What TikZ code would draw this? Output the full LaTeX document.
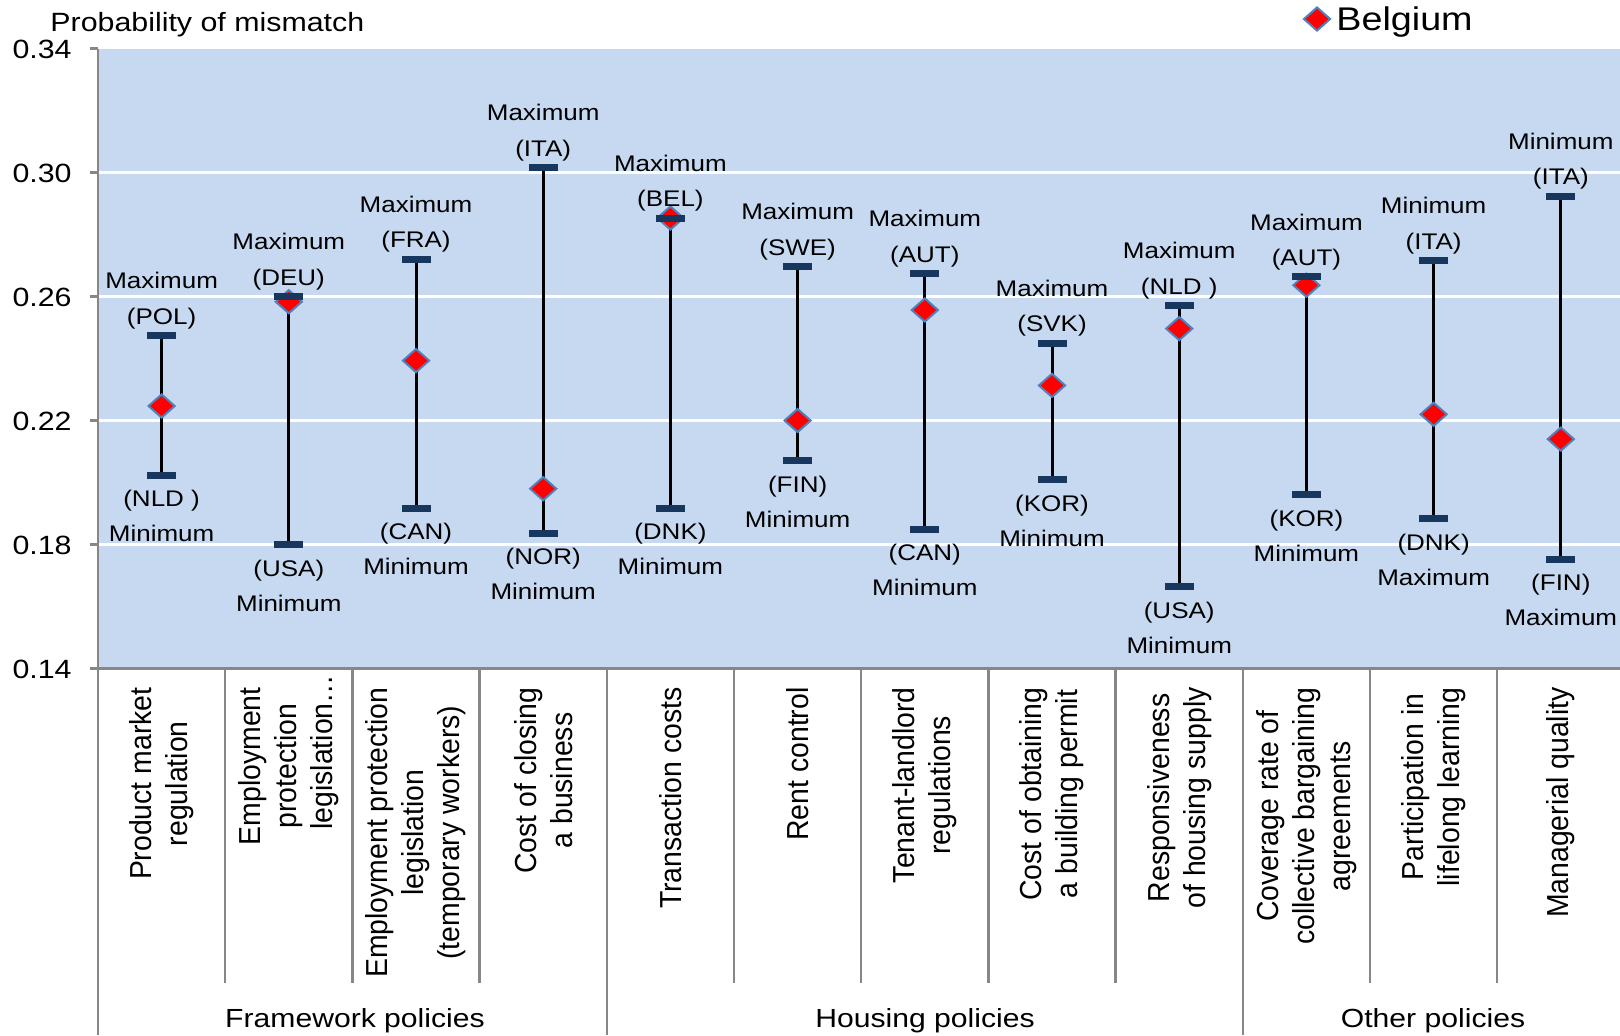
\documentclass[tikz,border=0pt]{standalone}
\usepackage{fontspec}
\setmainfont{Liberation Sans}
\newfontfamily\hfont[FakeStretch=1.15]{Liberation Sans}
\usetikzlibrary{shapes.geometric}
\definecolor{plotbg}{HTML}{C6D9F0}
\definecolor{capcol}{HTML}{17375E}
\definecolor{axcol}{HTML}{878787}
\definecolor{dborder}{HTML}{4F81BD}
\pgfdeclarelayer{back}
\pgfdeclarelayer{mid}
\pgfsetlayers{back,mid,main}
\begin{document}
\begin{tikzpicture}[x=0.5pt,y=-0.5pt,
  capbar/.style={rectangle, fill=capcol, minimum width=14.5pt, minimum height=3.5pt, inner sep=0pt},
  belg/.style={diamond, fill=red, draw=dborder, line width=1pt, minimum width=13.5pt, minimum height=12pt, inner sep=0pt},
  vline/.style={line width=1.5pt, black},
  gridl/.style={line width=1.2pt, white},
  axisl/.style={line width=1.2pt, axcol},
  dlbl/.style={font=\hfont\fontsize{11.3}{13}\selectfont, inner sep=0pt, text height=8.1pt, text depth=0pt},
  ticklbl/.style={font=\hfont\fontsize{13.2}{15}\selectfont, inner sep=0pt, text height=9.5pt, text depth=0pt, anchor=east},
  catlbl/.style={font=\fontsize{14.2}{16.8}\selectfont, align=center, inner sep=0pt, transform shape, rotate=90, anchor=east},
  grplbl/.style={font=\hfont\fontsize{13.1}{15}\selectfont, inner sep=0pt, text height=9.4pt, text depth=0pt},
]
\useasboundingbox (0,0) rectangle (1620,1035);

% plot background and grid
\begin{pgfonlayer}{back}
  \fill[plotbg] (98,48.6) rectangle (1620,668.6);
  \foreach \gy in {172.6,296.6,420.6,544.6}
    \draw[gridl] (98,\gy) -- (1620,\gy);
\end{pgfonlayer}

% axes
\draw[axisl] (98,48.6) -- (98,1035);
\draw[axisl] (98,668.6) -- (1620,668.6);
\foreach \gy in {48.6,172.6,296.6,420.6,544.6,668.6}
  \draw[axisl] (90,\gy) -- (98,\gy);
\foreach \k in {1,2,3,5,6,7,8,10,11}
  \draw[axisl] ({98+\k*127.2},668.6) -- ({98+\k*127.2},983);
\foreach \k in {4,9}
  \draw[axisl] ({98+\k*127.2},668.6) -- ({98+\k*127.2},1035);

% tick labels
\node[ticklbl] (t34) at (72,48.6) {0.34};
\node[ticklbl] (t30) at (72,172.6) {0.30};
\node[ticklbl] (t26) at (72,296.6) {0.26};
\node[ticklbl] (t22) at (72,420.6) {0.22};
\node[ticklbl] (t18) at (72,544.6) {0.18};
\node[ticklbl] (t14) at (72,668.6) {0.14};

% axis title
\node[font=\hfont\fontsize{13.2}{15}\selectfont, inner sep=0pt, text height=9.5pt, text depth=0pt, anchor=west] (ytitle) at (50,22) {Probability of mismatch};

% legend
\node[belg] (legd) at (1317,19) {};
\node[font=\hfont\fontsize{16.4}{19}\selectfont, inner sep=0pt, text height=11.8pt, text depth=0pt, anchor=west] (legt) at (1336,19) {Belgium};

% data
\foreach \i/\cx/\hy/\dy/\ly/\hc/\lc/\hw/\lw in {
  1/161.6/335.8/406.0/475.3/{(POL)}/{(NLD )}/Maximum/Minimum,
  2/288.8/296.5/301.7/544.5/{(DEU)}/{(USA)}/Maximum/Minimum,
  3/416.0/259.3/360.6/508.3/{(FRA)}/{(CAN)}/Maximum/Minimum,
  4/543.2/167.4/488.7/533.1/{(ITA)}/{(NOR)}/Maximum/Minimum,
  5/670.4/218.0/218.0/508.3/{(BEL)}/{(DNK)}/Maximum/Minimum,
  6/797.6/266.6/420.5/460.8/{(SWE)}/{(FIN)}/Maximum/Minimum,
  7/924.8/273.8/310.0/529.0/{(AUT)}/{(CAN)}/Maximum/Minimum,
  8/1052.0/343.0/385.4/479.4/{(SVK)}/{(KOR)}/Maximum/Minimum,
  9/1179.2/305.8/328.6/586.9/{(NLD )}/{(USA)}/Maximum/Minimum,
  10/1306.4/276.9/285.2/494.9/{(AUT)}/{(KOR)}/Maximum/Minimum,
  11/1433.6/260.4/414.3/518.7/{(ITA)}/{(DNK)}/Minimum/Maximum,
  12/1560.8/196.3/439.1/559.0/{(ITA)}/{(FIN)}/Minimum/Maximum}{
  \node[belg] (d\i) at (\cx,\dy) {};
  \node[capbar] (hi\i) at (\cx,\hy) {};
  \node[capbar] (lo\i) at (\cx,\ly) {};
  \begin{pgfonlayer}{mid}
    \draw[vline] (hi\i.center) -- (lo\i.center);
  \end{pgfonlayer}
  \node[dlbl] (hw\i) at (\cx,\hy-55) {\hw};
  \node[dlbl] (hc\i) at (\cx,\hy-19.5) {\hc};
  \node[dlbl] (lc\i) at (\cx,\ly+23.5) {\lc};
  \node[dlbl] (lw\i) at (\cx,\ly+58.5) {\lw};
}

% category labels (slightly widened across, as in the reference)
\foreach \i/\cx/\txt in {
  1/161.6/{Product market\\regulation},
  2/288.8/{Employment\\protection\\legislation\rlap{…}},
  3/416.0/{Employment protection\\legislation\\(temporary workers)},
  4/543.2/{Cost of closing\\a business},
  5/670.4/{Transaction costs},
  6/797.6/{Rent control},
  7/924.8/{Tenant-landlord\\regulations},
  8/1052.0/{Cost of obtaining\\a building permit},
  9/1179.2/{Responsiveness\\of housing supply},
  10/1306.4/{Coverage rate of\\collective bargaining\\agreements},
  11/1433.6/{Participation in\\lifelong learning},
  12/1560.8/{Managerial quality}}{
  \begin{scope}[shift={(\cx,687)}, xscale=1.07]
    \node[catlbl] (c\i) at (0,0) {\txt};
  \end{scope}
}

% group labels
\node[grplbl] (g1) at (355,1018) {Framework policies};
\node[grplbl] (g2) at (925,1018) {Housing policies};
\node[grplbl] (g3) at (1433,1018) {Other policies};
\end{tikzpicture}
\end{document}
